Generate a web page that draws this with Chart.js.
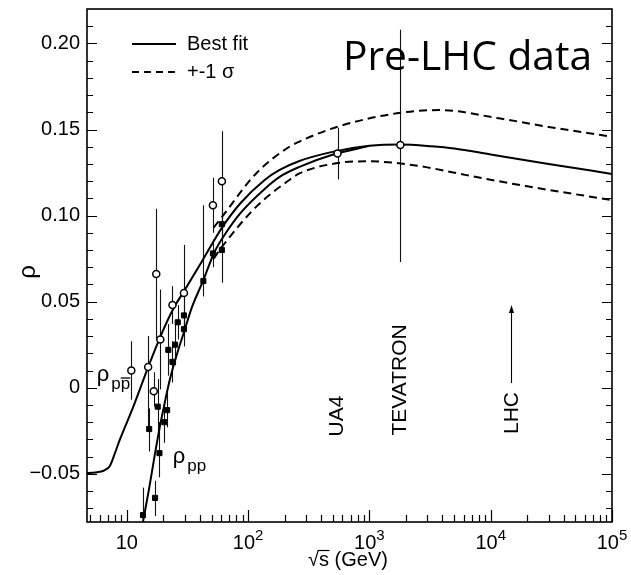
<!DOCTYPE html>
<html>
<head>
<meta charset="utf-8">
<script src="https://cdn.jsdelivr.net/npm/chart.js@4.4.1/dist/chart.umd.min.js"></script>
<style>
  html, body { margin: 0; padding: 0; background: #fff; }
  #wrap { width: 631px; height: 575px; }
</style>
</head>
<body>
<div id="wrap"><canvas id="rhoChart" width="631" height="575"></canvas></div>
<script>
// rho(sqrt s) for pp and p-pbar, pre-LHC data with the dispersion fit

// p-pbar measurements (open circles)
const pbarEnergy = [10.9, 15.0, 16.7, 17.5, 18.9, 23.8, 29.6, 51.3, 60.8, 546, 1800];
const pbarRho    = [0.010, 0.012, -0.002, 0.066, 0.028, 0.048, 0.055, 0.106, 0.120, 0.136, 0.141];
const pbarLow    = [-0.007, -0.024, -0.011, 0.028, -0.001, 0.037, 0.027, 0.090, 0.090, 0.121, 0.073];
const pbarHigh   = [0.027, 0.030, 0.009, 0.104, 0.057, 0.059, 0.083, 0.122, 0.149, 0.151, 0.208];

// pp measurements (filled squares)
const ppEnergy = [13.6, 15.3, 17.1, 18.0, 18.6, 20.4, 21.5, 22.0, 23.8, 25.0, 26.3, 29.6, 29.6, 42.8, 51.3, 60.8, 60.8];
const ppRho    = [-0.074, -0.024, -0.064, -0.011, -0.038, -0.020, -0.013, 0.022, 0.015, 0.025, 0.038, 0.042, 0.034, 0.062, 0.078, 0.095, 0.080];
const ppLow    = [-0.080, -0.037, -0.0745, -0.027, -0.052, -0.032, -0.023, 0.007, 0.003, 0.013, 0.028, 0.032, 0.024, 0.053, 0.070, 0.085, 0.061];
const ppHigh   = [-0.058, -0.012, -0.054, 0.005, -0.020, -0.008, -0.003, 0.037, 0.027, 0.037, 0.048, 0.052, 0.044, 0.106, 0.086, 0.105, 0.099];

// best fit, p-pbar branch (continues as the common curve at high energy)
const pbarFitEnergy = [4.69, 5.2, 6.0, 6.6, 7.25, 8.0, 8.75, 11.2, 14.9, 19.0, 23.9, 30.0, 42.2, 60.6, 86.8, 137, 182, 265, 496, 1000, 1800, 3236, 5000, 10000, 30000, 100000];
const pbarFitRho    = [-0.0496, -0.0494, -0.0488, -0.0478, -0.0455, -0.0379, -0.0303, -0.0119, 0.0114, 0.0300, 0.0452, 0.0567, 0.0741, 0.0927, 0.1073, 0.1207, 0.1265, 0.1317, 0.1370, 0.1405, 0.1413, 0.1403, 0.1390, 0.1355, 0.1300, 0.1242];

// best fit, pp branch
const ppFitEnergy = [13.6, 15.2, 17.0, 18.7, 20.6, 22.6, 25.8, 29.5, 34.3, 42.2, 53.0, 64.1, 86.8, 137, 182, 265, 496, 1000];
const ppFitRho    = [-0.0778, -0.0595, -0.0392, -0.0229, -0.0084, 0.0045, 0.0190, 0.0319, 0.0464, 0.0615, 0.0790, 0.0889, 0.1016, 0.1155, 0.1225, 0.1283, 0.1353, 0.1405];

// +-1 sigma band
const sigmaUpEnergy = [52, 61, 117, 219, 265, 546, 1680, 3800, 11700, 30000, 100000];
const sigmaUpRho    = [0.093, 0.0993, 0.1246, 0.1400, 0.1430, 0.1516, 0.1594, 0.1613, 0.1565, 0.1515, 0.1458];
const sigmaDnEnergy = [52, 61, 117, 219, 265, 546, 1000, 1680, 3000, 6300, 20000, 100000];
const sigmaDnRho    = [0.075, 0.0819, 0.1052, 0.1207, 0.1245, 0.1305, 0.1315, 0.1305, 0.1280, 0.1235, 0.1170, 0.1090];

// axis ticks
const xTickValues = [10, 100, 1000, 10000, 100000];
const xTickPowers = ['', '2', '3', '4', '5'];
const yTickValues = [-0.05, 0, 0.05, 0.10, 0.15, 0.20];
const yTickLabels = ['\u22120.05', '0', '0.05', '0.10', '0.15', '0.20'];

const FONT = '"Liberation Sans", Arial, sans-serif';

const toXY = (xs, ys) => xs.map((v, i) => ({ x: v, y: ys[i] }));

const axesPlugin = {
    id: 'axesPlugin',
    beforeDatasetsDraw(chart) {
        // error bars sit under the markers
        const { ctx, chartArea: a, scales: { x, y } } = chart;
        ctx.save();
        ctx.beginPath();
        ctx.rect(a.left, a.top, a.right - a.left, a.bottom - a.top);
        ctx.clip();
        ctx.strokeStyle = '#111';
        ctx.lineWidth = 1.1;
        const bars = (E, lo, hi) => E.forEach((e, i) => {
            const px = Math.round(x.getPixelForValue(e)) + 0.5;
            ctx.beginPath();
            ctx.moveTo(px, y.getPixelForValue(lo[i]));
            ctx.lineTo(px, y.getPixelForValue(hi[i]));
            ctx.stroke();
        });
        bars(pbarEnergy, pbarLow, pbarHigh);
        bars(ppEnergy, ppLow, ppHigh);
        ctx.restore();
    },
    afterDraw(chart) {
        const { ctx, chartArea: a, scales: { x, y } } = chart;
        ctx.save();
        ctx.strokeStyle = '#000';
        ctx.fillStyle = '#000';

        // frame
        ctx.lineWidth = 1.6;
        ctx.strokeRect(a.left, a.top, a.right - a.left, a.bottom - a.top);

        // y ticks, inward on both sides
        ctx.lineWidth = 1.2;
        for (let k = -7; k <= 21; k++) {
            const py = Math.round(y.getPixelForValue(k / 100)) + 0.5;
            const len = k % 5 === 0 ? 10 : 6;
            ctx.beginPath();
            ctx.moveTo(a.left, py); ctx.lineTo(a.left + len, py);
            ctx.moveTo(a.right, py); ctx.lineTo(a.right - len, py);
            ctx.stroke();
        }
        // x ticks, inward at bottom
        for (let d = 1; d <= 100000; d *= 10) {
            for (let m = 1; m <= 9; m++) {
                const v = d * m;
                if (v < x.min || v > x.max) continue;
                const px = Math.round(x.getPixelForValue(v)) + 0.5;
                const len = m === 1 ? 12 : 7;
                ctx.beginPath();
                ctx.moveTo(px, a.bottom); ctx.lineTo(px, a.bottom - len);
                ctx.stroke();
            }
        }

        // y tick labels
        ctx.font = '20px ' + FONT;
        ctx.textAlign = 'right';
        ctx.textBaseline = 'middle';
        yTickValues.forEach((v, i) => ctx.fillText(yTickLabels[i], a.left - 7, y.getPixelForValue(v)));

        // x tick labels: 10, 10^2 ...
        ctx.textAlign = 'left';
        ctx.textBaseline = 'alphabetic';
        const base = a.bottom + 27;
        xTickValues.forEach((v, i) => {
            ctx.font = '20px ' + FONT;
            const w1 = ctx.measureText('10').width;
            ctx.font = '15px ' + FONT;
            const w2 = xTickPowers[i] ? ctx.measureText(xTickPowers[i]).width : 0;
            const start = x.getPixelForValue(v) - (w1 + w2) / 2;
            ctx.font = '20px ' + FONT;
            ctx.fillText('10', start, base);
            if (w2) {
                ctx.font = '15px ' + FONT;
                ctx.fillText(xTickPowers[i], start + w1, base - 9);
            }
        });

        // x title with a bar over the s of the root sign
        ctx.font = '20px ' + FONT;
        ctx.textAlign = 'left';
        const xt = '\u221As (GeV)';
        const xtw = ctx.measureText(xt).width;
        const xt0 = 348 - xtw / 2, xtBase = a.bottom + 44;
        ctx.fillText(xt, xt0, xtBase);
        const wRoot = ctx.measureText('\u221A').width, wS = ctx.measureText('s').width;
        ctx.lineWidth = 1.2;
        ctx.beginPath();
        ctx.moveTo(xt0 + wRoot - 1, xtBase - 15.5);
        ctx.lineTo(xt0 + wRoot + wS + 0.5, xtBase - 15.5);
        ctx.stroke();

        // y title
        ctx.save();
        ctx.translate(28, 272);
        ctx.rotate(-Math.PI / 2);
        ctx.font = '24px ' + FONT;
        ctx.textAlign = 'center';
        ctx.textBaseline = 'middle';
        ctx.fillText('\u03C1', 0, 0);
        ctx.restore();

        // legend
        ctx.lineWidth = 2;
        ctx.beginPath();
        ctx.moveTo(132, 44); ctx.lineTo(176, 44);
        ctx.stroke();
        ctx.setLineDash([7, 5]);
        ctx.beginPath();
        ctx.moveTo(132, 72); ctx.lineTo(176, 72);
        ctx.stroke();
        ctx.setLineDash([]);
        ctx.font = '20px ' + FONT;
        ctx.textAlign = 'left';
        ctx.textBaseline = 'middle';
        ctx.fillText('Best fit', 187, 44);
        ctx.fillText('+-1 \u03C3', 187, 72);

        // big title
        ctx.textBaseline = 'alphabetic';
        ctx.font = '40px "Open Sans", sans-serif';
        const tw = ctx.measureText('Pre-LHC data').width;
        const size = 40 * 249 / tw;
        ctx.font = size.toFixed(1) + 'px "Open Sans", sans-serif';
        ctx.fillText('Pre-LHC data', 343, 70);

        // rotated experiment labels
        const vlabel = (txt, e, r) => {
            ctx.save();
            ctx.translate(x.getPixelForValue(e), y.getPixelForValue(r));
            ctx.rotate(-Math.PI / 2);
            ctx.font = '21px ' + FONT;
            ctx.textAlign = 'center';
            ctx.textBaseline = 'middle';
            ctx.fillText(txt, 0, 0);
            ctx.restore();
        };
        vlabel('UA4', 546, -0.0164);
        vlabel('TEVATRON', 1800, 0.0045);
        vlabel('LHC', 15000, -0.0147);

        // LHC arrow
        const ax = Math.round(x.getPixelForValue(14800)) + 0.5;
        const ay0 = y.getPixelForValue(0.0027), ay1 = y.getPixelForValue(0.048);
        ctx.lineWidth = 1.1;
        ctx.beginPath();
        ctx.moveTo(ax, ay0); ctx.lineTo(ax, ay1 + 6);
        ctx.stroke();
        ctx.beginPath();
        ctx.moveTo(ax, ay1); ctx.lineTo(ax - 2.5, ay1 + 8); ctx.lineTo(ax + 2.5, ay1 + 8);
        ctx.closePath();
        ctx.fill();

        // curve labels rho_pp-bar and rho_pp
        const rhoLabel = (e, r, bar) => {
            const px = x.getPixelForValue(e), py = y.getPixelForValue(r);
            ctx.textAlign = 'left';
            ctx.textBaseline = 'alphabetic';
            ctx.font = '22px ' + FONT;
            ctx.fillText('\u03C1', px, py);
            const w = ctx.measureText('\u03C1').width;
            ctx.font = '17px ' + FONT;
            ctx.fillText('pp', px + w + 2, py + 8);
            if (bar) {
                const wp = ctx.measureText('p').width;
                ctx.lineWidth = 1.3;
                ctx.beginPath();
                ctx.moveTo(px + w + 2 + wp, py - 3);
                ctx.lineTo(px + w + 2 + 2 * wp, py - 3);
                ctx.stroke();
            }
        };
        rhoLabel(5.66, 0.0039, true);
        rhoLabel(23.9, -0.044, false);

        ctx.restore();
    }
};

const curve = (data, dash) => ({
    type: 'line',
    data: data,
    borderColor: '#000',
    borderWidth: 2,
    borderDash: dash || [],
    pointRadius: 0,
    fill: false,
    cubicInterpolationMode: 'monotone'
});

new Chart(document.getElementById('rhoChart'), {
    type: 'line',
    data: {
        datasets: [
            {
                data: toXY(pbarEnergy, pbarRho),
                showLine: false,
                pointStyle: 'circle',
                pointRadius: 3.5,
                backgroundColor: '#fff',
                borderColor: '#000',
                borderWidth: 1.5
            },
            {
                data: toXY(ppEnergy, ppRho),
                showLine: false,
                pointStyle: 'rect',
                pointRadius: 3.6,
                backgroundColor: '#000',
                borderColor: '#000',
                borderWidth: 1
            },
            curve(toXY(pbarFitEnergy, pbarFitRho)),
            curve(toXY(ppFitEnergy, ppFitRho)),
            curve(toXY(sigmaUpEnergy, sigmaUpRho), [8, 5]),
            curve(toXY(sigmaDnEnergy, sigmaDnRho), [8, 5])
        ]
    },
    options: {
        responsive: false,
        animation: false,
        events: [],
        layout: { padding: { left: 87, right: 19, top: 9, bottom: 53 } },
        plugins: { legend: { display: false }, tooltip: { enabled: false } },
        scales: {
            x: { type: 'logarithmic', min: 4.7, max: 100000, display: false },
            y: { type: 'linear', min: -0.078, max: 0.22, display: false }
        }
    },
    plugins: [axesPlugin]
});
</script>
</body>
</html>
